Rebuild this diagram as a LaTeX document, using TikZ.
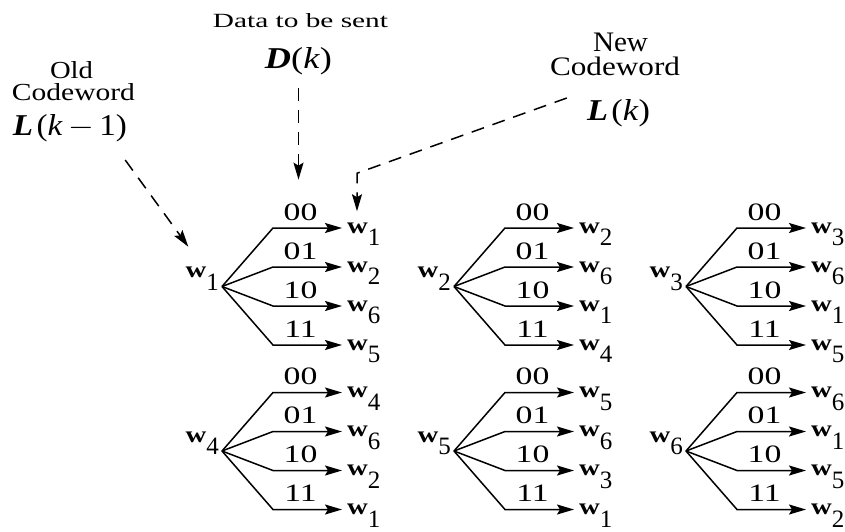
\documentclass[tikz,border=0pt]{standalone}
\usepackage{fontspec}
\setmainfont{Liberation Serif}
\usetikzlibrary{arrows.meta}

% state symbol: bold w with a large, lowered index
\newcommand{\wsym}[1]{\scalebox{1.25}[1]{\fontsize{23}{23}\selectfont\bfseries w}\raisebox{-12.5pt}{\fontsize{25}{25}\selectfont #1}}
% two-bit input label on a branch
\newcommand{\codelab}[1]{\scalebox{1.35}[1]{\fontsize{25}{25}\selectfont #1}}

\tikzset{
  link/.style={line width=1.5pt, line join=miter, -{Stealth[length=17pt,width=10pt,inset=3pt]}},
  hint/.style={link, dash pattern=on 13pt off 9pt},
  word/.style={inner sep=0pt, anchor=base},
  state/.style={inner sep=0pt},
}

% one transition fan: id, x, y, source index, list of next-state indices
\newcommand{\codeblock}[5]{%
  \coordinate (v#1) at (#2,#3);
  \node[state, anchor=base east] (s#1) at ([xshift=-3pt,yshift=9pt]v#1) {\wsym{#4}};
  \foreach \nxt [count=\i] in {#5} {
    \pgfmathsetmacro{\dy}{-58.5+39*(\i-1)}
    \node[state, anchor=base west] (t#1-\i) at ([shift={(125,\dy+5)}]v#1) {\wsym{\nxt}};
    \draw[link] (v#1) -- ++(51,\dy)
      -- node[word, pos=0.4, yshift=8pt] (c#1-\i) {\codelab{\ifcase\i\or 00\or 01\or 10\or 11\fi}}
      ([xshift=-5pt,yshift=5pt]t#1-\i.base west);
  }
}

\begin{document}
\begin{tikzpicture}[x=1pt,y=-1pt]
\useasboundingbox (0,0) rectangle (845,531);

% captions
\node[word] (data) at (300.5,27) {\resizebox{175pt}{14pt}{Data to be sent}};
\node[word] (dk) at (298.5,68) {\resizebox{67pt}{21pt}{\textbf{\textit{D}}(\textit{k})}};
\node[word] (old) at (71.5,78.5) {\resizebox{43pt}{17pt}{Old}};
\node[word] (cwl) at (73.5,100) {\resizebox{123pt}{17pt}{Codeword}};
\node[word] (lold) at (70,135) {\resizebox{114pt}{21pt}{\textbf{\textit{L}}\kern1pt(\textit{k}\,$-$\,1)}};
\node[word] (new) at (620.5,51.5) {\resizebox{55pt}{18.5pt}{New}};
\node[word] (cwr) at (615,75) {\resizebox{130pt}{18.5pt}{Codeword}};
\node[word] (lnew) at (618.5,120) {\resizebox{63pt}{21pt}{\textbf{\textit{L}}\kern1pt(\textit{k})}};

% transition fans
\codeblock{1}{222}{286.5}{1}{1,2,6,5}
\codeblock{2}{454}{286.5}{2}{2,6,1,4}
\codeblock{3}{686}{286.5}{3}{3,6,1,5}
\codeblock{4}{222}{451}{4}{4,6,2,1}
\codeblock{5}{454}{451}{5}{5,6,3,1}
\codeblock{6}{686}{451}{6}{6,1,5,2}

% pointers from the captions
\draw[hint] ([xshift=-2pt,yshift=-25pt]lold.base east) -- ([xshift=3pt,yshift=20pt]s1.north west);
\coordinate (dkaim) at (dk.base |- c1-1.north);
\draw[hint] ([yshift=-20pt]dk.base) -- ([yshift=23pt]dkaim);
\draw[hint] ([xshift=-20pt,yshift=22pt]lnew.base west)
  -- ([xshift=10pt,yshift=49pt]t1-1.north west)
  -- ([xshift=10pt,yshift=11pt]t1-1.north west);
\end{tikzpicture}
\end{document}
